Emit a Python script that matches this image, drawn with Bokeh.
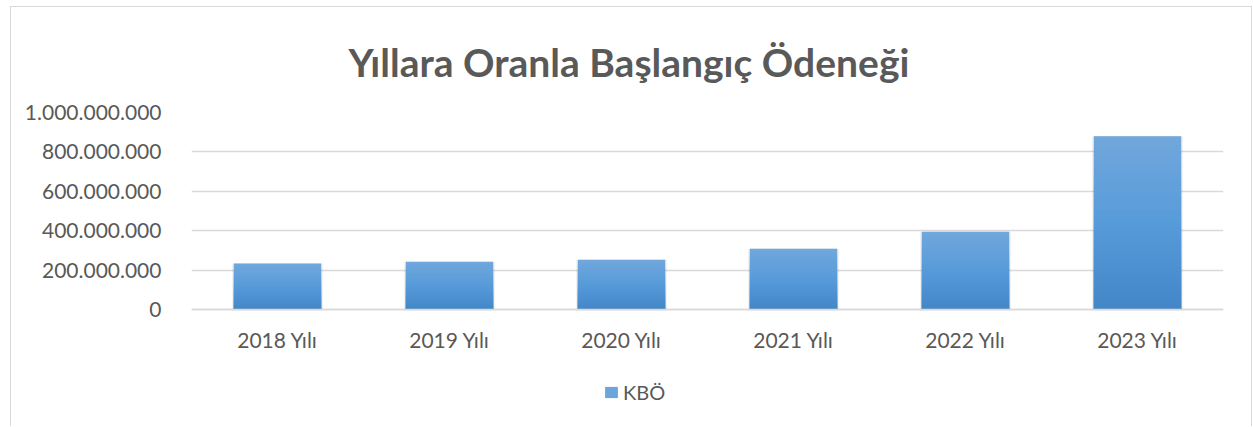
from bokeh.plotting import figure
from bokeh.models import (ColumnDataSource, Title, Legend, LegendItem,
                          CustomJSTickFormatter, FactorRange, Range1d, FixedTicker)
from bokeh.embed import file_html
from bokeh.resources import INLINE

categories = ["2018 Yılı", "2019 Yılı", "2020 Yılı", "2021 Yılı", "2022 Yılı", "2023 Yılı"]
kbo = [233_000_000, 243_000_000, 253_000_000, 309_000_000, 395_000_000, 879_000_000]
y_ticks = [0, 200_000_000, 400_000_000, 600_000_000, 800_000_000, 1_000_000_000]
title_text = "Yıllara Oranla Başlangıç Ödeneği"
series_name = "KBÖ"

FONT = "Lato"
TXT = "#595959"

# frame extends below zero so the category labels and legend sit inside it
VAL_PX = 197          # pixels from 0 to the top tick
FRAME_H = 308
y_max = y_ticks[-1]
y_min = -y_max * (FRAME_H - VAL_PX) / VAL_PX

p = figure(x_range=FactorRange(*categories, range_padding=0),
           y_range=Range1d(y_min, y_max),
           frame_width=1032, frame_height=FRAME_H,
           min_border_left=180, min_border_right=28,
           min_border_top=105, min_border_bottom=6,
           output_backend="svg", toolbar_location=None,
           background_fill_color="white", border_fill_color="white")
p.outline_line_color = None
p.styles = {"border-left": "1px solid #d9d9d9", "border-top": "1px solid #d9d9d9",
            "border-right": "1px solid #d9d9d9", "box-sizing": "border-box",
            "margin-left": "10px", "margin-top": "6px"}

# gradient bars: overlapping strips from 0 up to a fraction of each bar's value,
# tallest (lightest) first so shorter (darker) ones lie on top
N = 40
stops = [(0.0, (66, 134, 200)), (0.5, (87, 155, 218)), (1.0, (113, 167, 220))]

def grad(t):
    for (t0, c0), (t1, c1) in zip(stops[:-1], stops[1:]):
        if t0 <= t <= t1:
            f = (t - t0) / (t1 - t0)
            c = [round(a + (b - a) * f) for a, b in zip(c0, c1)]
            return "#%02x%02x%02x" % tuple(c)
    return "#%02x%02x%02x" % stops[-1][1]

xs, tops, cols = [], [], []
for k in range(N - 1, -1, -1):
    for cat, v in zip(categories, kbo):
        xs.append(cat)
        tops.append(v * (k + 1) / N)
        cols.append(grad((k + 0.5) / N))

# soft shadow
shadow_src = ColumnDataSource(dict(x=categories, top=kbo))
p.vbar(x="x", top="top", bottom=-y_max * 0.006, width=0.53, source=shadow_src,
       fill_color="black", fill_alpha=0.05, line_color=None)
p.vbar(x="x", top="top", bottom=-y_max * 0.003, width=0.517, source=shadow_src,
       fill_color="black", fill_alpha=0.08, line_color=None)

src = ColumnDataSource(dict(x=xs, top=tops, color=cols))
bars = p.vbar(x="x", top="top", bottom=0, width=0.506, source=src,
              fill_color="color", line_color=None)

# y axis
p.yaxis.ticker = FixedTicker(ticks=y_ticks)
p.yaxis.formatter = CustomJSTickFormatter(code="""
    return Math.round(tick).toString().replace(/\\B(?=(\\d{3})+(?!\\d))/g, '.');
""")
p.yaxis.axis_line_color = None
p.yaxis.major_tick_line_color = None
p.yaxis.minor_tick_line_color = None
p.yaxis.major_label_standoff = 24
p.yaxis.major_label_text_font = FONT
p.yaxis.major_label_text_font_size = "21px"
p.yaxis.major_label_text_color = TXT

# x axis fixed at value 0
p.xaxis.fixed_location = 0
p.xaxis.axis_line_color = "#d9d9d9"
p.xaxis.axis_line_width = 1.5
p.xaxis.major_tick_line_color = None
p.xaxis.minor_tick_line_color = None
p.xaxis.major_label_standoff = 11
p.xaxis.major_label_text_font = FONT
p.xaxis.major_label_text_font_size = "21px"
p.xaxis.major_label_text_color = TXT

p.xgrid.grid_line_color = None
p.ygrid.ticker = FixedTicker(ticks=y_ticks)
p.ygrid.grid_line_color = "#d9d9d9"
p.ygrid.grid_line_width = 1.5

# title
p.add_layout(Title(text=title_text, align="left", offset=157,
                   text_font=FONT, text_font_style="bold", text_font_size="39px",
                   text_color=TXT, standoff=56), "above")

legend = Legend(items=[LegendItem(label=series_name, renderers=[bars], index=N // 2)],
                location=(412, 16), orientation="horizontal",
                glyph_width=16, glyph_height=14, label_standoff=4,
                padding=0, margin=0, spacing=0,
                border_line_color=None, background_fill_alpha=0,
                label_text_font=FONT, label_text_font_size="20px",
                label_text_color=TXT)
p.add_layout(legend)

open("out.html", "w").write(file_html(p, INLINE))
